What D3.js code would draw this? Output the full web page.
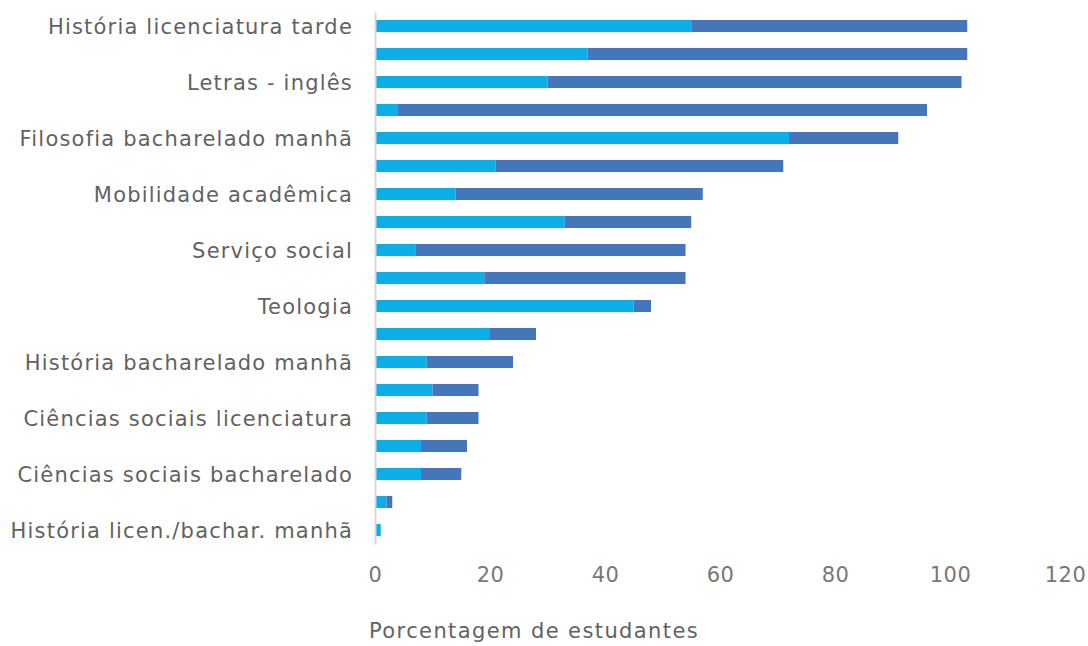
<!DOCTYPE html>
<html>
<head>
<meta charset="utf-8">
<script src="https://cdn.jsdelivr.net/npm/d3@7"></script>
<style>
  body { margin: 0; background: #fff; }
  svg text { font-family: "DejaVu Sans", sans-serif; font-size: 21px; }
</style>
</head>
<body>
<svg id="chart" width="1088" height="646"></svg>
<script>
// category labels, top to bottom (only every other one is printed on the chart)
var labels = [
  "História licenciatura tarde", "",
  "Letras - inglês", "",
  "Filosofia bacharelado manhã", "",
  "Mobilidade acadêmica", "",
  "Serviço social", "",
  "Teologia", "",
  "História bacharelado manhã", "",
  "Ciências sociais licenciatura", "",
  "Ciências sociais bacharelado", "",
  "História licen./bachar. manhã"
];
var serieA = [55, 37, 30, 4, 72, 21, 14, 33, 7, 19, 45, 20, 9, 10, 9, 8, 8, 2, 1];
var serieB = [48, 66, 72, 92, 19, 50, 43, 22, 47, 35, 3, 8, 15, 8, 9, 8, 7, 1, 0];
var xTicks = [0, 20, 40, 60, 80, 100, 120];

var margin = {top: 12, left: 375, right: 23, bottom: 102};
var width = 1088 - margin.left - margin.right,
    height = 646 - margin.top - margin.bottom;

var svg = d3.select("#chart");
var g = svg.append("g")
    .attr("transform", "translate(" + margin.left + "," + margin.top + ")");

var idx = d3.range(labels.length);

var x = d3.scaleLinear().domain([0, 120]).range([0, width]);
var y = d3.scaleBand().domain(idx).range([0, height]).paddingInner(0.57).paddingOuter(0.285);

var rows = idx.map(function(i) {
    return {i: i, a: serieA[i], b: serieB[i]};
});

// light blue segment
g.selectAll(".barA")
    .data(rows)
    .enter().append("rect")
    .attr("class", "barA")
    .attr("x", x(0))
    .attr("y", function(d) { return y(d.i); })
    .attr("width", function(d) { return x(d.a) - x(0); })
    .attr("height", y.bandwidth())
    .style("fill", "#0baee6");

// dark blue segment stacked after it
g.selectAll(".barB")
    .data(rows)
    .enter().append("rect")
    .attr("class", "barB")
    .attr("x", function(d) { return x(d.a); })
    .attr("y", function(d) { return y(d.i); })
    .attr("width", function(d) { return x(d.a + d.b) - x(d.a); })
    .attr("height", y.bandwidth())
    .style("fill", "#4575ba");

// y axis
var yAxis = g.append("g")
    .call(d3.axisLeft(y).tickSize(0).tickPadding(22)
        .tickFormat(function(i) { return labels[i]; }));
yAxis.attr("font-family", null).attr("font-size", null);
yAxis.select(".domain")
    .attr("stroke", "#d9d9d9")
    .attr("stroke-width", 2);
yAxis.selectAll("text")
    .attr("dy", "0.37em")
    .style("letter-spacing", "1.2px")
    .style("fill", "#626262");

// x axis, labels only
var xAxis = g.append("g")
    .attr("transform", "translate(0," + height + ")")
    .call(d3.axisBottom(x).tickValues(xTicks).tickSize(0).tickPadding(23));
xAxis.attr("font-family", null).attr("font-size", null);
xAxis.select(".domain").remove();
xAxis.selectAll("text")
    .style("letter-spacing", "0.5px")
    .style("fill", "#787878");

svg.append("text")
    .attr("x", 369)
    .attr("y", 638)
    .style("letter-spacing", "1.4px")
    .style("fill", "#626262")
    .text("Porcentagem de estudantes");
</script>
</body>
</html>
